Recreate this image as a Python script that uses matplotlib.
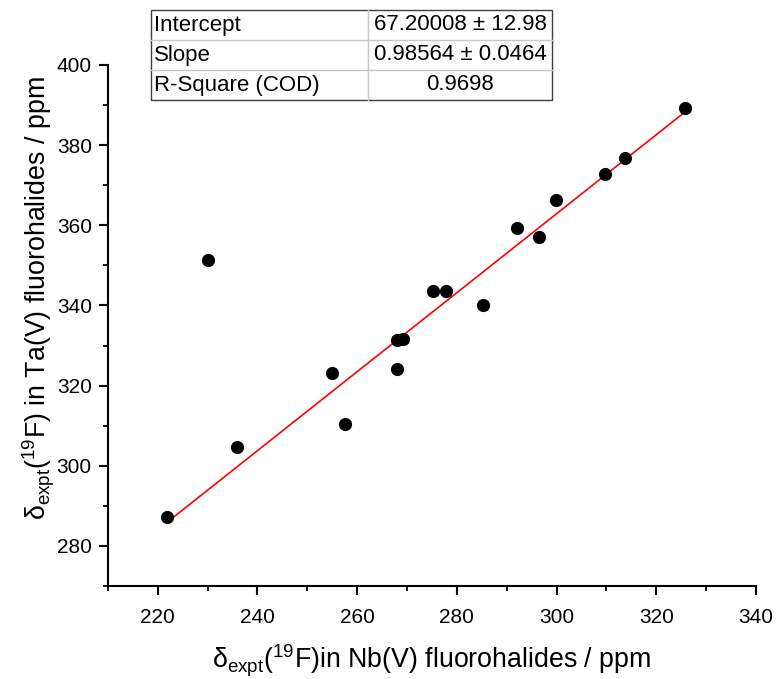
import matplotlib
matplotlib.use("Agg")
import matplotlib.pyplot as plt
from matplotlib.patches import Rectangle
import numpy as np

plt.rcParams['font.family'] = ['Liberation Sans', 'DejaVu Sans']
plt.rcParams['mathtext.fontset'] = 'custom'
plt.rcParams['mathtext.rm'] = 'Liberation Sans'
plt.rcParams['mathtext.it'] = 'Liberation Sans:italic'
plt.rcParams['mathtext.bf'] = 'Liberation Sans:bold'

# Data
nb_shift = [325.8, 313.7, 309.8, 299.8, 292.1, 296.4, 230.0, 275.2, 277.8, 285.2,
            268.1, 269.2, 268.1, 254.9, 257.6, 236.0, 221.9]
ta_shift = [389.2, 376.7, 372.8, 366.4, 359.4, 357.1, 351.4, 343.7, 343.7, 340.1,
            331.5, 331.7, 324.2, 323.1, 310.5, 304.8, 287.3]

intercept = 67.20008
slope = 0.98564
table_rows = ["Intercept", "Slope", "R-Square (COD)"]
table_vals = ["67.20008 \u00b1 12.98", "0.98564 \u00b1 0.0464", "0.9698"]

x_ticks = [220, 240, 260, 280, 300, 320, 340]
y_ticks = [280, 300, 320, 340, 360, 380, 400]

fig = plt.figure(figsize=(7.76, 6.79), dpi=100)
ax = fig.add_axes([107.8/776, 1-586/679, (756-107.8)/776, (586-65)/679])

ax.scatter(nb_shift, ta_shift, s=90, color='black', zorder=3, linewidths=0)
xf = np.array([min(nb_shift), max(nb_shift)])
ax.plot(xf, intercept + slope*xf, color='red', lw=1.2, zorder=2)

ax.set_xlim(210, 340)
ax.set_ylim(270, 400)
ax.set_xticks(x_ticks)
ax.set_yticks(y_ticks)
ax.set_xticks(np.arange(210, 341, 10), minor=True)
ax.set_yticks(np.arange(270, 401, 10), minor=True)
for s in ['top', 'right']:
    ax.spines[s].set_visible(False)
for s in ['left', 'bottom']:
    ax.spines[s].set_linewidth(1.5)
ax.tick_params(which='major', direction='out', length=6.5, width=1.5, labelsize=15, colors='black')
ax.tick_params(which='minor', direction='out', length=3.8, width=1.3)
ax.tick_params(axis='x', pad=9)
ax.tick_params(axis='y', pad=5)

ax.set_xlabel('\u03b4$_{\\mathrm{expt}}$($^{19}$F)in Nb(V) fluorohalides / ppm', fontsize=19.3, labelpad=12)
ax.set_ylabel('\u03b4$_{\\mathrm{expt}}$($^{19}$F) in Ta(V) fluorohalides / ppm', fontsize=19.3, labelpad=0)
ax.yaxis.label.set_y(0.553)

# Table
tx0, tx1 = 150.7/776, 552/776
ty0, ty1 = 1-100/679, 1-10/679
csplit = 368/776
rh = (ty1-ty0)/3
for i, (r, v) in enumerate(zip(table_rows, table_vals)):
    ytop = ty1 - i*rh
    yc = ytop - rh/2
    fig.text(tx0 + 3/776, yc, r, ha='left', va='center', fontsize=16)
    fig.text((csplit + tx1)/2, yc, v, ha='center', va='center', fontsize=16)
    if i > 0:
        fig.add_artist(plt.Line2D([tx0, tx1], [ytop, ytop], color='#c8c8c8', lw=1))
fig.add_artist(plt.Line2D([csplit, csplit], [ty0, ty1], color='#c8c8c8', lw=1))
fig.add_artist(Rectangle((tx0, ty0), tx1-tx0, ty1-ty0, fill=False, edgecolor='#404040', lw=1,
                         transform=fig.transFigure))

fig.savefig('out.png', dpi=100)
